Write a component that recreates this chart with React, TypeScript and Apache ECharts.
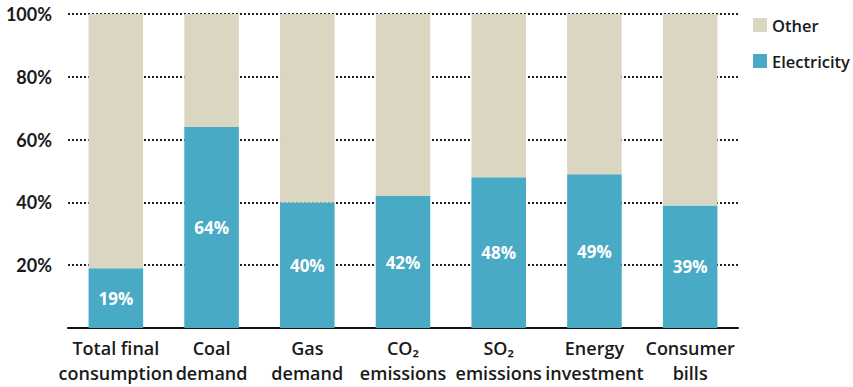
import React, { useEffect, useRef } from "react";
import * as echarts from "echarts";

const categories = [
  "Total final\nconsumption",
  "Coal\ndemand",
  "Gas\ndemand",
  "CO₂\nemissions",
  "SO₂\nemissions",
  "Energy\ninvestment",
  "Consumer\nbills",
];
const electricity = [19, 64, 40, 42, 48, 49, 39];
const other = electricity.map((v) => 100 - v);
const yTicks = [0, 20, 40, 60, 80, 100];

const ELEC_COLOR = "#48aac5";
const OTHER_COLOR = "#dad6c2";

export default function App() {
  const ref = useRef<HTMLDivElement>(null);

  useEffect(() => {
    if (!ref.current) return;
    const chart = echarts.init(ref.current, null, { renderer: "svg" });
    chart.setOption({
      animation: false,
      backgroundColor: "#ffffff",
      legend: {
        orient: "vertical",
        left: 748,
        top: 10,
        itemWidth: 14,
        itemHeight: 14,
        itemGap: 16,
        icon: "rect",
        data: ["Other", "Electricity"],
        textStyle: {
          fontFamily: "Open Sans",
          fontWeight: 600,
          fontSize: 16.5,
          lineHeight: 20,
          color: "#1a1a1a",
        },
      },
      grid: { left: 68, right: 115, top: 14, bottom: 59, containLabel: false },
      xAxis: {
        type: "category",
        data: categories,
        axisLine: { show: true, lineStyle: { color: "#111", width: 2 } },
        axisTick: { show: false },
        axisLabel: {
          interval: 0,
          margin: 7,
          fontFamily: "Open Sans",
          fontWeight: 600,
          fontSize: 18,
          lineHeight: 25,
          color: "#1a1a1a",
        },
      },
      yAxis: {
        type: "value",
        min: yTicks[0],
        max: yTicks[yTicks.length - 1],
        interval: 20,
        axisLine: { show: false },
        axisTick: { show: false },
        axisLabel: {
          margin: 16,
          fontFamily: "Lato",
          fontWeight: 700,
          fontSize: 18,
          color: "#1a1a1a",
          formatter: (v: number) => (v === 0 ? "" : `${v}%`),
        },
        splitLine: {
          show: true,
          lineStyle: { color: "#222", width: 2, type: [2, 2] },
        },
      },
      series: [
        {
          name: "Electricity",
          type: "bar",
          stack: "total",
          data: electricity,
          barWidth: "57%",
          itemStyle: { color: ELEC_COLOR },
          label: {
            show: true,
            position: "inside",
            formatter: "{c}%",
            color: "#ffffff",
            fontFamily: "Open Sans",
            fontWeight: 700,
            fontSize: 17,
          },
          z: 3,
        },
        {
          name: "Other",
          type: "bar",
          stack: "total",
          data: other,
          barWidth: "57%",
          itemStyle: { color: OTHER_COLOR },
          z: 3,
        },
      ],
    });
    return () => chart.dispose();
  }, []);

  return (
    <div
      ref={ref}
      style={{ position: "fixed", left: 0, top: 0, width: 853, height: 387 }}
    />
  );
}
